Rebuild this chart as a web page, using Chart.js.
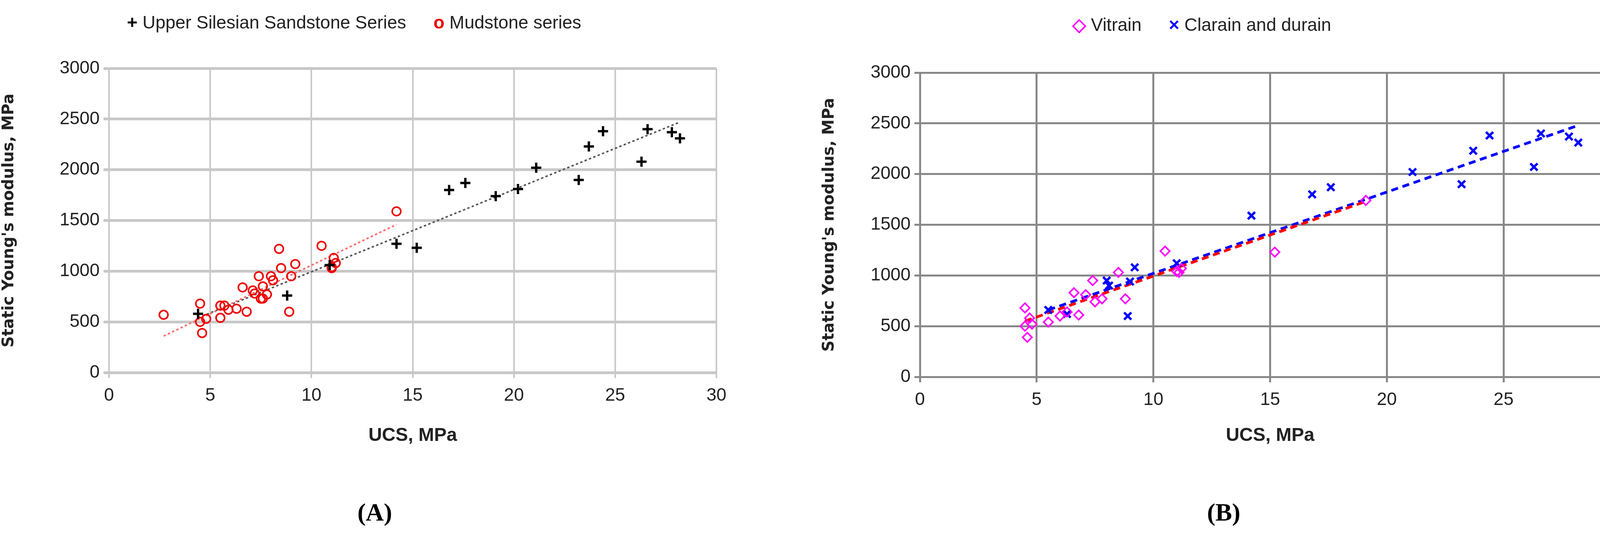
<!DOCTYPE html>
<html><head><meta charset="utf-8">
<script src="https://cdn.jsdelivr.net/npm/chart.js@4/dist/chart.umd.min.js"></script>
<style>
body{margin:0;background:#fff;width:4203px;height:1375px;position:relative;overflow:hidden;font-family:'Liberation Sans Narrow','Liberation Sans',sans-serif}
.box{position:absolute;top:0;height:1200px}
.lg{position:absolute;font-size:46px;color:#222;white-space:nowrap}
.lg span{margin-right:70px}
.cap{position:absolute;top:1275px;font-family:'Liberation Serif',serif;font-size:64px;font-weight:bold}
</style></head><body>
<div class="box" style="left:0;width:2000px"><canvas id="cA"></canvas></div>
<div class="box" style="left:2100px;width:2103px"><canvas id="cB"></canvas></div>
<div class="lg" style="left:325px;top:30px"><span><b style="color:#000">+</b> Upper Silesian Sandstone Series</span><span><b style="color:#e00">o</b> Mudstone series</span></div>
<div class="lg" style="left:2745px;top:36px"><span><b style="color:#f0f">◇</b> Vitrain</span><span><b style="color:#00f">×</b> Clarain and durain</span></div>
<div class="cap" style="left:915px">(<span>A</span>)</div>
<div class="cap" style="left:3090px">(<span>B</span>)</div>
<script>
const sandX=[4.4,8.8,10.9,14.2,15.2,16.8,17.6,19.1,20.2,21.1,23.2,23.7,24.4,26.3,26.6,27.8,28.2];
const sandY=[580,760,1060,1270,1230,1800,1870,1740,1810,2020,1900,2230,2380,2080,2400,2370,2310];
const mudX=[2.7,4.5,4.5,4.6,4.8,5.5,5.5,5.7,5.9,6.3,6.6,6.8,7.1,7.2,7.4,7.5,7.6,7.6,7.8,8.0,8.1,8.4,8.5,8.9,9.0,9.2,10.5,11.0,11.0,11.1,11.2,14.2];
const mudY=[570,680,500,390,530,540,660,660,620,630,840,600,810,780,950,730,730,850,770,950,910,1220,1030,600,950,1070,1250,1040,1030,1130,1080,1590];
const mudTrend=[[2.7,360],[14.2,1460]];
const sandTrend=[[4.4,540],[28.2,2470]];
const vitX=[4.5,4.5,4.6,4.7,4.8,5.5,6.0,6.3,6.6,6.8,7.1,7.4,7.5,7.8,8.5,8.8,10.5,11.0,11.1,11.2,15.2,19.1];
const vitY=[680,500,390,580,520,540,600,640,830,610,810,950,740,770,1030,770,1240,1040,1030,1070,1230,1740];
const claX=[5.5,6.3,8.0,8.1,8.9,9.0,9.2,11.0,14.2,16.8,17.6,21.1,23.2,23.7,24.4,26.3,26.6,27.8,28.2];
const claY=[660,620,950,900,600,940,1080,1120,1590,1800,1870,2020,1900,2230,2380,2070,2400,2370,2310];
const vitTrend=[[4.5,550],[19.1,1730]];
const claTrend=[[5.5,660],[28.2,2480]];

const pts=(xs,ys)=>xs.map((x,i)=>({x,y:ys[i]}));
const ln=a=>a.map(p=>({x:p[0],y:p[1]}));
const tickFont={family:"'Liberation Sans Narrow','Liberation Sans',sans-serif",size:46};

function make(id,datasets,o){
  return new Chart(document.getElementById(id),{
    type:'scatter',
    data:{datasets},
    options:{
      responsive:true,maintainAspectRatio:false,animation:false,
      layout:{padding:{top:o.top,right:o.right,left:0,bottom:0}},
      plugins:{legend:{display:false},tooltip:{enabled:false}},
      scales:{
        x:{min:0,max:30,ticks:{stepSize:5,autoSkip:false,maxRotation:0,callback:v=>String(v),color:'#222',font:tickFont,padding:18},
           grid:{color:o.grid,lineWidth:o.vw,tickLength:14},border:{color:o.grid,width:o.vw},
           title:{display:true,text:'UCS, MPa',color:'#222',font:{...tickFont,weight:'bold',size:48},padding:{top:0,bottom:55}},
           afterFit:s=>{s.height=1200-o.bottom}},
        y:{min:0,max:3000,ticks:{stepSize:500,callback:v=>String(v),color:'#222',font:tickFont,padding:10},
           grid:{color:o.grid,lineWidth:o.hw,tickLength:14},border:{color:o.grid,width:o.vw},
           title:{display:true,text:"Static Young's modulus, MPa",color:'#222',font:{family:'DejaVu Sans',size:40,weight:'bold'},padding:{top:0,bottom:10}},
           afterFit:s=>{s.width=o.left}}
      }
    }
  });
}

make('cA',[
  {data:pts(sandX,sandY),pointStyle:'cross',radius:13,borderColor:'#000',borderWidth:6},
  {data:pts(mudX,mudY),pointStyle:'circle',radius:11,borderColor:'#e00',backgroundColor:'rgba(0,0,0,0)',borderWidth:4},
  {type:'line',data:ln(mudTrend),borderColor:'#f66',borderWidth:4,borderDash:[6,6],pointRadius:0},
  {type:'line',data:ln(sandTrend),borderColor:'#555',borderWidth:4,borderDash:[6,6],pointRadius:0}
],{top:175,right:166,left:279,bottom:954,grid:'#c8c8c8',hw:7,vw:4});

make('cB',[
  {data:pts(vitX,vitY),pointStyle:'rectRot',radius:12,borderColor:'#f0f',backgroundColor:'rgba(0,0,0,0)',borderWidth:4},
  {data:pts(claX,claY),pointStyle:'crossRot',radius:13,borderColor:'#00f',borderWidth:6},
  {type:'line',data:ln(vitTrend),borderColor:'#f00',borderWidth:7,borderDash:[18,12],pointRadius:0},
  {type:'line',data:ln(claTrend),borderColor:'#00f',borderWidth:7,borderDash:[18,12],pointRadius:0}
],{top:186,right:55,left:255,bottom:965,grid:'#888',hw:5,vw:5});
</script>
</body></html>
